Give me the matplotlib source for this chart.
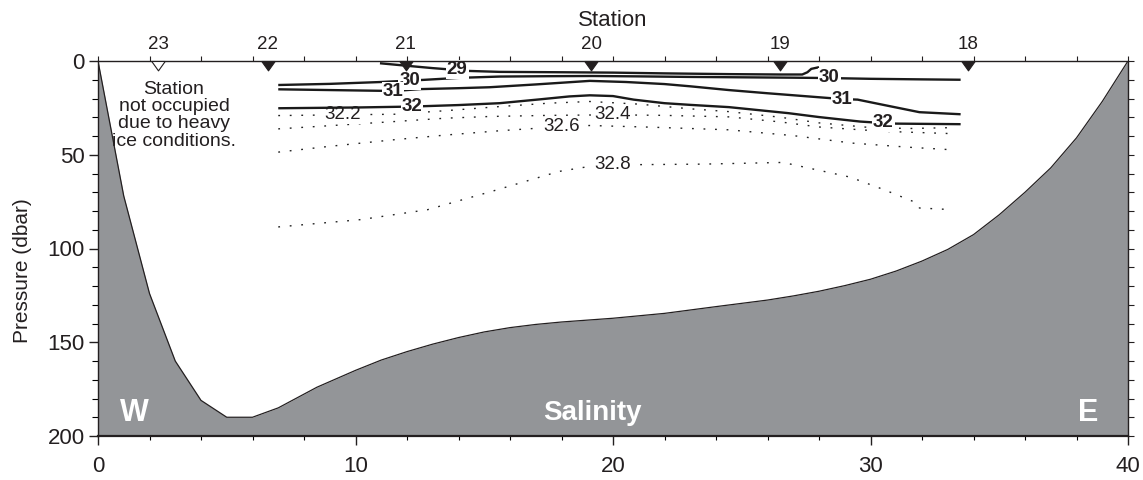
import numpy as np
import matplotlib
matplotlib.use("Agg")
import matplotlib.pyplot as plt
from matplotlib.path import Path
from matplotlib.ticker import FixedLocator, MultipleLocator, NullFormatter

plt.rcParams['font.family'] = ['Liberation Sans', 'DejaVu Sans']

# ---- bottom profile (distance, pressure) ----
bathy_x = [0, 1, 2, 3, 4, 5, 6, 7, 8.5, 10, 11, 12, 13, 14, 15, 16, 17, 18,
           19, 20, 22, 24, 26, 27, 28, 29, 30, 31, 32, 33, 34, 35, 36, 37,
           38, 39, 40]
bathy_p = [0, 72, 124, 160, 181, 190, 190, 185, 174, 165, 159.5, 155, 151,
           147.5, 144.5, 142.2, 140.5, 139.2, 138.2, 137.2, 134.6, 131,
           127.5, 125.3, 122.8, 119.8, 116.4, 112, 106.7, 100.5, 92.6, 82,
           70, 57, 41, 21.6, 0]

# ---- stations ----
station_names = ['23', '22', '21', '20', '19', '18']
station_x = [2.33, 6.6, 11.95, 19.15, 26.5, 33.8]
station_occupied = [False, True, True, True, True, True]

# ---- isohalines (solid) ----
s29_x = [10.95, 11.96, 13.0, 14.4, 15.6, 18.0, 20.0, 22.0, 24.5, 26.5,
         27.35, 27.55, 27.7, 28.0]
s29_p = [1.2, 2.5, 3.8, 5.3, 5.8, 6.0, 6.2, 6.6, 7.0, 7.2, 7.2, 6.0, 4.2, 3.3]

s30_x = [7.0, 9.0, 11.0, 12.6, 14.0, 15.6, 17.5, 19.2, 21.0, 23.0, 25.0,
         27.0, 28.4, 30.0, 32.0, 33.5]
s30_p = [12.8, 12.2, 11.2, 10.1, 9.0, 8.3, 8.1, 8.0, 8.2, 8.5, 8.7, 8.9,
         9.1, 9.5, 9.8, 10.0]

s31_x = [7.0, 9.0, 11.5, 12.5, 14.0, 15.2, 17.0, 19.1, 20.5, 22.0, 23.0,
         24.5, 26.0, 28.9, 29.5, 30.5, 31.9, 33.5]
s31_p = [15.1, 15.5, 16.0, 15.0, 14.5, 14.0, 12.5, 10.6, 11.2, 12.3, 13.5,
         15.5, 17.2, 20.3, 20.6, 23.4, 27.3, 28.4]

s32_x = [7.0, 10.0, 12.2, 14.0, 15.6, 17.2, 18.3, 19.1, 20.0, 20.8, 22.0,
         23.0, 24.5, 26.8, 28.0, 29.6, 30.5, 31.0, 33.5]
s32_p = [25.2, 24.8, 24.3, 23.5, 22.5, 20.4, 18.9, 18.3, 18.7, 20.6, 22.5,
         23.4, 24.6, 27.8, 29.9, 32.3, 33.1, 33.4, 33.7]

# ---- isohalines (dotted) ----
d322_x = [7.0, 9.5, 11.5, 13.5, 15.6, 17.5, 19.1, 21.0, 23.0, 24.5, 26.5,
          28.0, 30.0, 31.5, 33.3]
d322_p = [29.1, 28.7, 28.4, 26.5, 24.3, 22.5, 21.6, 23.0, 25.5, 27.0, 30.0,
          33.0, 35.5, 36.0, 35.5]

d324_x = [7.0, 9.0, 11.5, 13.5, 15.2, 17.5, 20.0, 22.0, 24.5, 26.5, 28.0,
          30.5, 33.3]
d324_p = [36.2, 34.5, 32.3, 30.5, 29.6, 29.0, 28.7, 29.0, 29.8, 32.5, 35.2,
          37.5, 38.8]

d326_x = [7.0, 9.0, 11.5, 13.5, 15.6, 18.0, 19.1, 21.5, 24.5, 27.0, 29.3,
          31.5, 33.1]
d326_p = [48.6, 45.5, 42.0, 39.5, 37.2, 35.0, 34.4, 35.3, 36.7, 39.8, 43.8,
          46.0, 47.3]

d328_x = [7.0, 10.2, 12.8, 15.3, 17.9, 19.1, 20.8, 23.5, 26.6, 29.2, 30.5,
          31.8, 31.9, 33.2]
d328_p = [88.5, 84.6, 79.3, 69.5, 58.9, 56.2, 55.3, 55.0, 54.1, 61.9, 68.5,
          75.7, 78.4, 79.3]

solid_levels = [29, 30, 31, 32]
dotted_levels = [32.2, 32.4, 32.6, 32.8]

# contour label placements: level, distance, pressure
solid_label_level = [29, 30, 30, 31, 31, 32, 32]
solid_label_x = [13.95, 12.1, 28.4, 11.45, 28.9, 12.2, 30.5]
solid_label_p = [4.6, 10.5, 8.9, 16.0, 20.5, 24.3, 33.0]

dotted_label_level = [32.2, 32.4, 32.6, 32.8]
dotted_label_x = [9.5, 20.0, 18.0, 20.0]
dotted_label_p = [28.6, 28.6, 35.0, 55.3]

# ---- figure ----
W, H = 1143, 480
fig = plt.figure(figsize=(W / 100, H / 100), dpi=100)
ax = fig.add_axes([98 / W, 44 / H, 1030 / W, 375 / H])
ax.set_xlim(0, 40)
ax.set_ylim(200, 0)

ink = '#231f20'
gray = '#939598'
ax.fill_between(bathy_x, bathy_p, 200, color=gray, lw=0, zorder=1)
ax.plot(bathy_x, bathy_p, color=ink, lw=0.9, zorder=1.5)

solid_lines = {29: (s29_x, s29_p), 30: (s30_x, s30_p),
               31: (s31_x, s31_p), 32: (s32_x, s32_p)}
dotted_lines = {32.2: (d322_x, d322_p), 32.4: (d324_x, d324_p),
                32.6: (d326_x, d326_p), 32.8: (d328_x, d328_p)}

for lev in dotted_levels:
    xs, ps = dotted_lines[lev]
    ax.plot(xs, ps, color='#222222', lw=1.0, linestyle=(0, (1.3, 7.0)),
            zorder=2)
for lev, x, p in zip(dotted_label_level, dotted_label_x, dotted_label_p):
    ax.text(x, p, f'{lev:.1f}', ha='center', va='center', fontsize=13.5,
            color=ink, zorder=3,
            bbox=dict(boxstyle='square,pad=0.05', fc='white', ec='none'))

for lev in solid_levels:
    xs, ps = solid_lines[lev]
    ax.plot(xs, ps, color='#1a1a1a', lw=1.7, solid_capstyle='butt', zorder=4)
for lev, x, p in zip(solid_label_level, solid_label_x, solid_label_p):
    ax.text(x, p, f'{lev:d}', ha='center', va='center', fontsize=13.5,
            fontweight='bold', color=ink, zorder=5,
            bbox=dict(boxstyle='square,pad=0.05', fc='white', ec='none'))

# station markers hanging from the surface line
tri = Path([(-1, 0), (1, 0), (0, -1.4), (-1, 0)],
           [Path.MOVETO, Path.LINETO, Path.LINETO, Path.CLOSEPOLY])
for sx, occ in zip(station_x, station_occupied):
    ax.plot([sx], [0], marker=tri, markersize=13.5, linestyle='none',
            markerfacecolor=ink if occ else 'white',
            markeredgecolor=ink, markeredgewidth=0.8,
            clip_on=False, zorder=10)

ax.text(2.95, 28.9, 'Station\nnot occupied\ndue to heavy\nice conditions.',
        ha='center', va='center', fontsize=14, linespacing=1.03,
        color=ink, zorder=6)

ax.text(1.43, 187.5, 'W', ha='center', va='center', fontsize=22,
        fontweight='bold', color='white', zorder=6)
ax.text(38.45, 187.5, 'E', ha='center', va='center', fontsize=22,
        fontweight='bold', color='white', zorder=6)
ax.text(19.2, 187.5, 'Salinity', ha='center', va='center', fontsize=20,
        fontweight='bold', color='white', zorder=6)

# ---- axes styling ----
for side in ['left', 'right', 'top']:
    ax.spines[side].set_linewidth(1.0)
ax.spines['bottom'].set_linewidth(1.6)
for s in ax.spines.values():
    s.set_color(ink)
    s.set_zorder(8)

ax.xaxis.set_major_locator(MultipleLocator(10))
ax.xaxis.set_minor_locator(MultipleLocator(2))
ax.yaxis.set_major_locator(MultipleLocator(50))
ax.yaxis.set_minor_locator(MultipleLocator(10))
ax.tick_params(axis='x', which='major', length=6.5, width=1.0, pad=8,
               labelsize=16, colors=ink, top=False)
ax.tick_params(axis='x', which='minor', length=3, width=0.8, top=False)
ax.tick_params(axis='y', which='major', length=6.5, width=1.0, pad=3,
               labelsize=16, colors=ink, right=False)
ax.tick_params(axis='y', which='minor', length=4.3, width=0.8, right=False)
ax.set_ylabel('Pressure (dbar)', fontsize=15, color=ink)
ax.yaxis.set_label_coords(-0.064, 0.44)

# right-hand ticks
sec_r = ax.secondary_yaxis('right')
sec_r.yaxis.set_major_locator(MultipleLocator(10))
sec_r.yaxis.set_major_formatter(NullFormatter())
sec_r.tick_params(length=4.3, width=0.8, colors=ink)
sec_r.spines['right'].set_visible(False)

# top axis: station numbers and distance ticks
sec_t = ax.secondary_xaxis('top')
sec_t.xaxis.set_major_locator(FixedLocator(station_x))
sec_t.set_xticklabels(station_names)
sec_t.xaxis.set_minor_locator(FixedLocator(np.arange(0, 41, 2)))
sec_t.tick_params(which='major', length=0, pad=6, labelsize=13.5,
                  colors=ink)
sec_t.tick_params(which='minor', length=3.3, width=0.8, colors=ink)
sec_t.spines['top'].set_visible(False)
sec_t.set_xlabel('Station', fontsize=16, color=ink, labelpad=7)

fig.savefig('out.png', dpi=100)
